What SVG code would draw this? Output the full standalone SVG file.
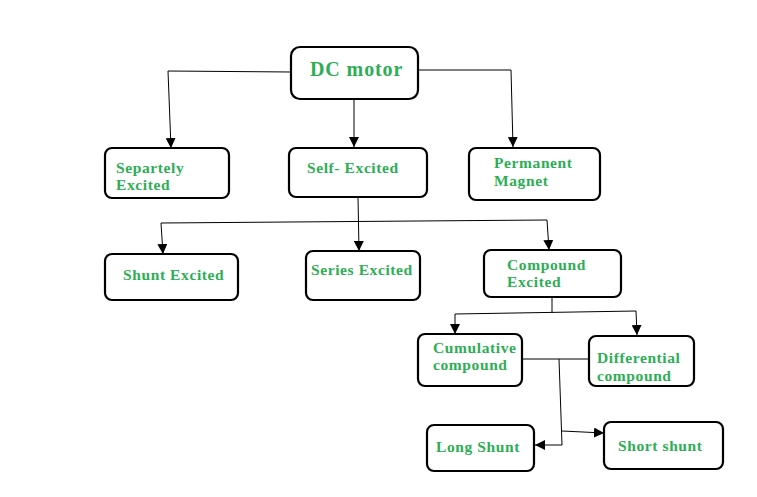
<svg xmlns="http://www.w3.org/2000/svg" width="757" height="497" viewBox="0 0 757 497">
<style>
.box{fill:#fff;stroke:#000;stroke-width:2.2}
.t{font-family:"Liberation Serif","DejaVu Serif",serif;font-weight:bold;fill:#2dae55;font-size:15.5px;letter-spacing:0.6px}
.c{fill:none;stroke:#000;stroke-width:1}
</style>
<defs>
<marker id="ah" viewBox="0 0 10 10" refX="10" refY="5" markerWidth="10" markerHeight="10" markerUnits="userSpaceOnUse" orient="auto">
<path d="M0,0 L10,5 L0,10 z" fill="#000"/>
</marker>
</defs>
<rect width="757" height="497" fill="#fff"/>
<g id="connectors">
<polyline class="c" points="291,72 168,71 171,148" marker-end="url(#ah)"/>
<line class="c" x1="354" y1="99" x2="354" y2="147" marker-end="url(#ah)"/>
<polyline class="c" points="418,70 511,70 513,147" marker-end="url(#ah)"/>
<line class="c" x1="358" y1="197" x2="359" y2="251" marker-end="url(#ah)"/>
<line class="c" x1="161" y1="223" x2="547" y2="220"/>
<line class="c" x1="161" y1="223" x2="163" y2="254" marker-end="url(#ah)"/>
<line class="c" x1="547" y1="220" x2="549" y2="250" marker-end="url(#ah)"/>
<line class="c" x1="552" y1="297" x2="552" y2="313"/>
<polyline class="c" points="455,314 636,311 637,335" marker-end="url(#ah)"/>
<line class="c" x1="455" y1="314" x2="455" y2="334" marker-end="url(#ah)"/>
<line class="c" x1="522" y1="359" x2="589" y2="359"/>
<polyline class="c" points="559,359 562,445 535,445" marker-end="url(#ah)"/>
<line class="c" x1="562" y1="431" x2="604" y2="433" marker-end="url(#ah)"/>
</g>
<g id="dc-motor"><rect class="box" x="291" y="47" width="127" height="52" rx="9"/><text class="t" x="310" y="76" style="font-size:20px;letter-spacing:0.9px">DC motor</text></g>
<g id="separately"><rect class="box" x="105" y="148" width="124" height="50" rx="7"/><text class="t" x="116" y="173">Separtely</text><text class="t" x="116" y="190">Excited</text></g>
<g id="self-excited"><rect class="box" x="289" y="148" width="138" height="49" rx="7"/><text class="t" x="307" y="173">Self- Excited</text></g>
<g id="permanent"><rect class="box" x="469" y="148" width="131" height="52" rx="7"/><text class="t" x="494" y="168">Permanent</text><text class="t" x="494" y="186">Magnet</text></g>
<g id="shunt"><rect class="box" x="105" y="254" width="133" height="46" rx="7"/><text class="t" x="123" y="280">Shunt Excited</text></g>
<g id="series"><rect class="box" x="306" y="251" width="114" height="49" rx="7"/><text class="t" x="311" y="275">Series Excited</text></g>
<g id="compound"><rect class="box" x="484" y="250" width="137" height="47" rx="7"/><text class="t" x="507" y="270">Compound</text><text class="t" x="507" y="287">Excited</text></g>
<g id="cumulative"><rect class="box" x="418" y="334" width="104" height="52" rx="7"/><text class="t" x="433" y="353">Cumulative</text><text class="t" x="433" y="370">compound</text></g>
<g id="differential"><rect class="box" x="589" y="336" width="105" height="50" rx="7"/><text class="t" x="597" y="363">Differential</text><text class="t" x="597" y="381">compound</text></g>
<g id="long-shunt"><rect class="box" x="427" y="425" width="107" height="46" rx="7"/><text class="t" x="436" y="452">Long Shunt</text></g>
<g id="short-shunt"><rect class="box" x="604" y="422" width="119" height="47" rx="7"/><text class="t" x="618" y="451">Short shunt</text></g>
</svg>
